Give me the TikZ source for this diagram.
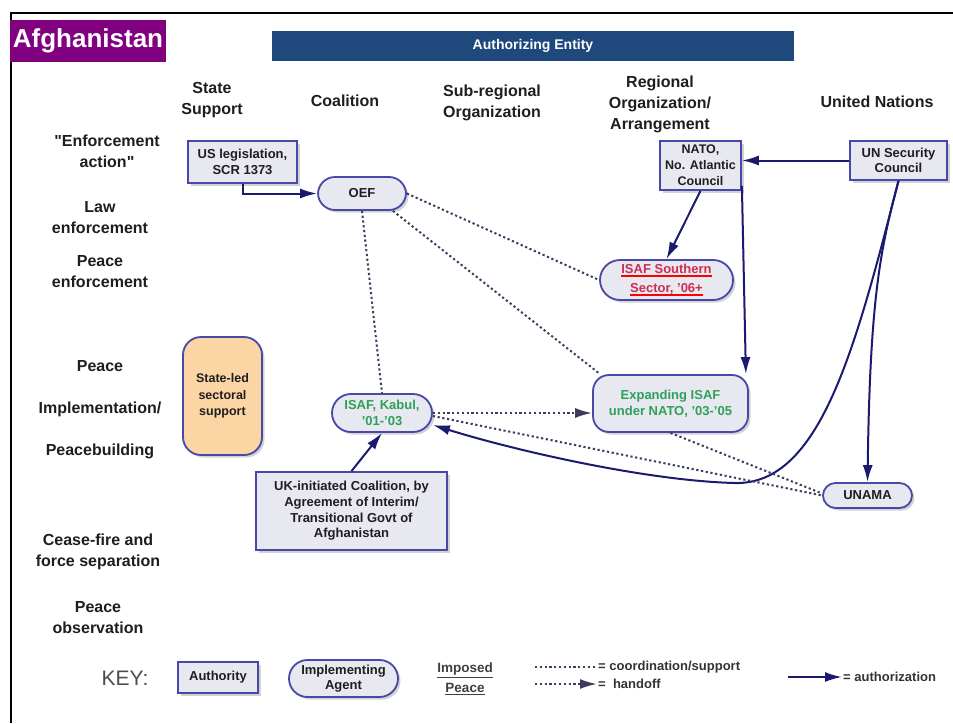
\documentclass[tikz,border=0pt]{standalone}
\usepackage{fontspec}
\setmainfont{Liberation Sans}
\newfontfamily\plainsans{Liberation Sans}
\usetikzlibrary{arrows.meta,shadows}

\definecolor{afpurple}{RGB}{128,0,128}
\definecolor{barblue}{RGB}{31,73,125}
\definecolor{boxfill}{RGB}{232,232,240}
\definecolor{boxedge}{RGB}{72,72,168}
\definecolor{navyline}{RGB}{26,26,110}
\definecolor{dotgray}{RGB}{60,60,95}
\definecolor{isafgreen}{RGB}{46,160,90}
\definecolor{isafred}{RGB}{205,45,85}
\definecolor{stateorange}{RGB}{252,213,165}
\definecolor{labelgray}{RGB}{30,30,30}

\newcommand{\redul}[1]{\setbox0\hbox{#1}\leavevmode\rlap{\color{red}\rule[-3pt]{\wd0}{2.2pt}}\box0}

\tikzset{
  colhead/.style={font=\fontsize{16}{21}\selectfont\bfseries, text=labelgray, align=center},
  rowlabel/.style={colhead},
  authbox/.style={draw=boxedge, fill=boxfill, line width=1.8pt, inner sep=0pt, align=center,
    text=labelgray, font=\fontsize{13}{15.7}\selectfont\bfseries,
    drop shadow={shadow xshift=2.5pt, shadow yshift=-2.5pt, fill=black!35}},
  agentbox/.style={authbox, rounded corners=#1},
  agentbox/.default=17pt,
  authline/.style={navyline, line width=2pt, -{Latex[length=17pt,width=10pt]}},
  coordline/.style={dotgray, line width=2pt, dash pattern=on 2.2pt off 2.6pt},
  handline/.style={coordline, -{Latex[length=17pt,width=10pt]}},
  keytext/.style={font=\fontsize{13}{15}\selectfont\bfseries, text=black!80, inner sep=1pt}
}

\begin{document}
\begin{tikzpicture}[x=1pt, y=-1pt]
  \useasboundingbox (0,0) rectangle (953,723);

  % frame and titles
  \draw[line width=2.5pt] (11,723) -- (11,13) -- (953,13);
  \node[fill=afpurple, text=white, minimum width=156pt, minimum height=42pt, inner sep=0pt,
    font=\fontsize{26}{30}\selectfont\bfseries] (country) at (88,41) {Afghanistan};
  \node[fill=barblue, text=white, minimum width=522pt, minimum height=30pt, inner sep=0pt,
    font=\fontsize{14}{16}\selectfont\bfseries] (authent) at (533,46) {Authorizing Entity};

  % column heads
  \node[colhead] (hstate) at (212,100) {State\\Support};
  \node[colhead] (hcoal) at (345,101) {Coalition};
  \node[colhead] (hsub) at (492,102.5) {Sub-regional\\Organization};
  \node[colhead] (hreg) at (660,104) {Regional\\Organization/\\Arrangement};
  \node[colhead] (hun) at (877,102) {United Nations};

  % row labels
  \node[rowlabel, font=\fontsize{16}{21}\selectfont\plainsans\bfseries] (renf) at (107,151) {"Enforcement\\action"};
  \node[rowlabel] (rlaw) at (100,218) {Law\\enforcement};
  \node[rowlabel] (rpenf) at (100,272) {Peace\\enforcement};
  \node[rowlabel, font=\fontsize{16}{42}\selectfont\bfseries] (rpimp) at (100,410) {Peace\\Implementation/\\Peacebuilding};
  \node[rowlabel] (rcease) at (98,552) {Cease-fire and\\force separation};
  \node[rowlabel] (robs) at (98,617.5) {Peace\\observation};

  % authorities and agents
  \node[authbox, minimum width=109pt, minimum height=42pt] (usleg) at (242.5,162) {US legislation,\\SCR 1373};
  \node[agentbox, minimum width=88pt, minimum height=33pt] (oef) at (362,193.5) {OEF};
  \node[authbox, minimum width=81pt, minimum height=49pt, font=\fontsize{12.5}{16}\selectfont\bfseries] (nato) at (700.5,165.5) {NATO,\\No. Atlantic\\Council};
  \node[authbox, minimum width=97pt, minimum height=39pt] (unsc) at (898.5,160.5) {UN Security\\Council};
  \node[agentbox=20pt, minimum width=133pt, minimum height=40pt, text=isafred, font=\fontsize{13}{19}\selectfont\bfseries] (isafs) at (666.5,280) {\redul{ISAF Southern}\\\redul{Sector, '06+}};
  \node[authbox, rounded corners=18pt, fill=stateorange, minimum width=79pt, minimum height=118pt, font=\fontsize{12.5}{16.5}\selectfont\bfseries] (stateled) at (222.5,396) {State-led\\sectoral\\support};
  \node[agentbox=19pt, minimum width=100pt, minimum height=38pt, text=isafgreen] (kabul) at (382,413) {ISAF, Kabul,\\'01-'03};
  \node[agentbox=16pt, minimum width=155pt, minimum height=57pt, text=isafgreen] (expand) at (670.5,403.5) {Expanding ISAF\\under NATO, '03-'05};
  \node[authbox, minimum width=191pt, minimum height=78pt] (ukinit) at (351.5,511) {UK-initiated Coalition, by\\Agreement of Interim/\\Transitional Govt of\\Afghanistan};
  \node[agentbox=12.5pt, minimum width=89pt, minimum height=25pt] (unama) at (867.5,495.5) {UNAMA};

  % authorization
  \draw[authline] (usleg.south) |- (oef.west);
  \draw[authline] (unsc.west) -- (unsc.west -| nato.east);
  \draw[authline] (nato.south) -- (isafs.north);
  \draw[authline] ([yshift=5pt]nato.south east) -- ([xshift=-3pt]expand.north east);
  \draw[authline] (unsc.south) .. controls (880,250) and (870,300) .. (unama.north);
  \draw[authline] (unsc.south) .. controls (855,350) and (820,485) .. (735,483)
    .. controls (650,481) and (520,452) .. ([yshift=-12pt]kabul.east);
  \draw[authline] (ukinit.north) -- (kabul.south);

  % coordination and handoff
  \draw[coordline] (oef.east) -- (isafs.west);
  \draw[coordline] ([xshift=-14pt]oef.south east) -- ([xshift=8pt]expand.north west);
  \draw[coordline] (oef.south) -- (kabul.north);
  \draw[handline] (kabul.east) -- (kabul.east -| expand.west);
  \draw[coordline] ([yshift=-3pt]kabul.east) -- (unama.west);
  \draw[coordline] (expand.south) -- ([yshift=2pt]unama.west);

  % key
  \node[font=\fontsize{21}{24}\selectfont, text=black!70] (keyhead) at (125,678) {KEY:};
  \node[authbox, minimum width=80pt, minimum height=31pt] (keyauth) at (218,677.5) {Authority};
  \node[agentbox=18.5pt, minimum width=109pt, minimum height=37pt, font=\fontsize{13}{15}\selectfont\bfseries] (keyagent) at (343.5,678.5) {Implementing\\Agent};
  \node[font=\fontsize{13.5}{20}\selectfont\bfseries, text=black!75, align=center] (keypeace) at (465,679) {\underline{Imposed}\\\underline{Peace}};
  \node[keytext, anchor=west] (keycoord) at (597,667) {= coordination/support};
  \node[keytext, anchor=west] (keyhand) at (597,684) {= \ handoff};
  \node[keytext, anchor=west] (keyauthz) at (842,677) {= authorization};
  \coordinate (kc1) at (535,667);
  \coordinate (kc2) at (535,684);
  \coordinate (kc3) at (788,677);
  \draw[coordline] (kc1) -- (keycoord.west);
  \draw[handline] (kc2) -- (keyhand.west);
  \draw[authline] (kc3) -- (keyauthz.west);
\end{tikzpicture}
\end{document}
